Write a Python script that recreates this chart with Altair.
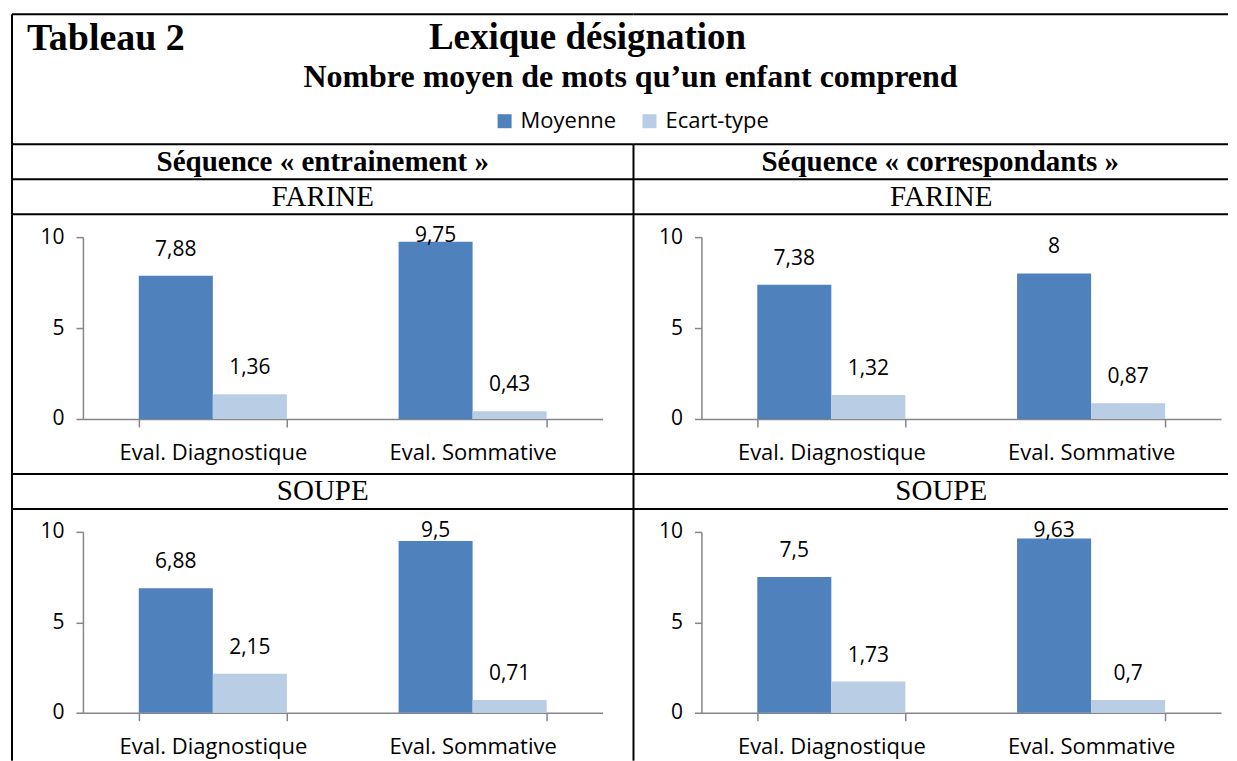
import altair as alt
import pandas as pd

# ---------------- data ----------------
titre_tableau = ["Tableau 2"]
titre_principal = ["Lexique désignation"]
sous_titre = ["Nombre moyen de mots qu’un enfant comprend"]
sequences = ["Séquence « entrainement »", "Séquence « correspondants »"]
aliments = ["FARINE", "SOUPE"]
evaluations = ["Eval. Diagnostique", "Eval. Sommative"]
series = ["Moyenne", "Ecart-type"]
y_ticks = [0, 5, 10]

# values: [Diag Moyenne, Diag Ecart-type, Somm Moyenne, Somm Ecart-type]
entrainement_farine = [7.88, 1.36, 9.75, 0.43]
correspondants_farine = [7.38, 1.32, 8, 0.87]
entrainement_soupe = [6.88, 2.15, 9.5, 0.71]
correspondants_soupe = [7.5, 1.73, 9.63, 0.7]

colors = ["#4F81BD", "#B9CDE5"]

# ---------------- layout ----------------
W_LEFT, W_RIGHT = 622, 595
LINE = dict(color="black", strokeWidth=2)
SERIF = "Liberation Serif"
SANS = "Open Sans"
AXIS_GREY = "#868686"


def one_row():
    return pd.DataFrame({"k": [0]})


def borders(w, h, top=True, left=True, left_len=None):
    base = alt.Chart(one_row())
    layers = []
    if top:
        layers.append(base.mark_rule(**LINE).encode(
            x=alt.value(0), x2=alt.value(w), y=alt.value(0)))
    if left:
        layers.append(base.mark_rule(**LINE).encode(
            x=alt.value(0), y=alt.value(0), y2=alt.value(left_len or h)))
    return layers


def text_cell(label, w, h, x, y, size, bold=True, align="center"):
    t = alt.Chart(pd.DataFrame({"label": [label]})).mark_text(
        font=SERIF, fontSize=size, fontWeight="bold" if bold else "normal",
        align=align, baseline="middle", color="black"
    ).encode(x=alt.value(x), y=alt.value(y), text="label:N")
    return alt.layer(*borders(w, h), t).properties(width=w, height=h)


def panel_df(vals):
    rows = []
    i = 0
    for ev in evaluations:
        for s in series:
            rows.append({"evaluation": ev, "serie": s, "valeur": vals[i]})
            i += 1
    return pd.DataFrame(rows)


def bar_cell(vals, w, h, x_axis, y_zero, y_ten, left_len=None):
    df = panel_df(vals)
    x_end = x_axis + 520
    base = alt.Chart(df).encode(
        x=alt.X("evaluation:N", sort=evaluations,
                scale=alt.Scale(range=[x_axis, x_end], paddingInner=0.43, paddingOuter=0.215),
                axis=alt.Axis(title=None, labelAngle=0, tickBand="extent",
                              offset=-(h - y_zero), domainColor=AXIS_GREY, domainWidth=1.5,
                              tickColor=AXIS_GREY, tickWidth=1.5, tickSize=8,
                              labelFont=SANS, labelFontSize=22, labelColor="black",
                              labelPadding=16, labelLimit=400)),
        xOffset=alt.XOffset("serie:N", sort=series,
                            scale=alt.Scale(paddingInner=0, paddingOuter=0)),
    )
    yscale = alt.Scale(domain=[0, 10], range=[y_zero, y_ten], nice=False, zero=True)
    bars = base.mark_bar().encode(
        y=alt.Y("valeur:Q", scale=yscale,
                axis=alt.Axis(title=None, values=y_ticks, offset=-x_axis, grid=False,
                              domainColor=AXIS_GREY, domainWidth=1.5,
                              tickColor=AXIS_GREY, tickWidth=1.5, tickSize=7,
                              labelFont=SANS, labelFontSize=21, labelColor="black",
                              labelPadding=12)),
        y2=alt.datum(0),
        color=alt.Color("serie:N", sort=series,
                        scale=alt.Scale(domain=series, range=colors),
                        legend=alt.Legend(title=None, orient="none", legendX=482, legendY=96,
                                          direction="horizontal", symbolType="square",
                                          symbolSize=196, symbolStrokeWidth=0,
                                          labelFont=SANS, labelFontSize=22, labelColor="black",
                                          labelOffset=5, columnPadding=22, padding=0,
                                          labelLimit=400)),
    )
    labels = base.transform_calculate(
        pos="min(datum.valeur + 1.43, 10.06)",
        lab="replace(toString(datum.valeur), '.', ',')",
    ).mark_text(font=SANS, fontSize=21, color="black", baseline="middle").encode(
        y=alt.Y("pos:Q", scale=yscale),
        text="lab:N",
    )
    return alt.layer(*borders(w, h, left_len=left_len), bars, labels).properties(
        width=w, height=h)


# title block, split into two grid cells (texts overflow the left one)
H_TITLE = 130
title_left = alt.layer(
    *borders(W_LEFT, H_TITLE),
    alt.Chart(pd.DataFrame({"label": titre_tableau})).mark_text(
        font=SERIF, fontSize=38, fontWeight="bold", align="left", baseline="alphabetic",
        color="black").encode(x=alt.value(15), y=alt.value(36), text="label:N"),
    alt.Chart(pd.DataFrame({"label": titre_principal})).mark_text(
        font=SERIF, fontSize=37, fontWeight="bold", align="center", baseline="alphabetic",
        color="black").encode(x=alt.value(576), y=alt.value(35), text="label:N"),
    alt.Chart(pd.DataFrame({"label": sous_titre})).mark_text(
        font=SERIF, fontSize=32, fontWeight="bold", align="center", baseline="alphabetic",
        color="black").encode(x=alt.value(619), y=alt.value(73), text="label:N"),
).properties(width=W_LEFT, height=H_TITLE)
title_right = alt.layer(*borders(W_RIGHT, H_TITLE, left=False)).properties(
    width=W_RIGHT, height=H_TITLE)

H_ROW = 35
cells = [
    title_left, title_right,
    text_cell(sequences[0], W_LEFT, H_ROW, 311, 18, 29),
    text_cell(sequences[1], W_RIGHT, H_ROW, 307, 18, 29),
    text_cell(aliments[0], W_LEFT, H_ROW, 311, 18, 29, bold=False),
    text_cell(aliments[0], W_RIGHT, H_ROW, 308, 18, 29, bold=False),
    bar_cell(entrainement_farine, W_LEFT, 260, 71, 205, 23),
    bar_cell(correspondants_farine, W_RIGHT, 260, 68, 205, 23),
    text_cell(aliments[1], W_LEFT, H_ROW, 311, 17, 29, bold=False),
    text_cell(aliments[1], W_RIGHT, H_ROW, 308, 17, 29, bold=False),
    bar_cell(entrainement_soupe, W_LEFT, 244, 71, 204, 23, left_len=252),
    bar_cell(correspondants_soupe, W_RIGHT, 244, 68, 204, 23, left_len=252),
]

chart = alt.concat(
    *cells, columns=2, spacing=0, bounds="flush",
).resolve_scale(
    x="independent", y="independent", xOffset="independent"
).properties(
    padding={"left": 3, "top": 5, "right": 0, "bottom": 0}
).configure_view(stroke=None)

chart.save("out.html", embed_options={"renderer": "svg", "actions": False})
